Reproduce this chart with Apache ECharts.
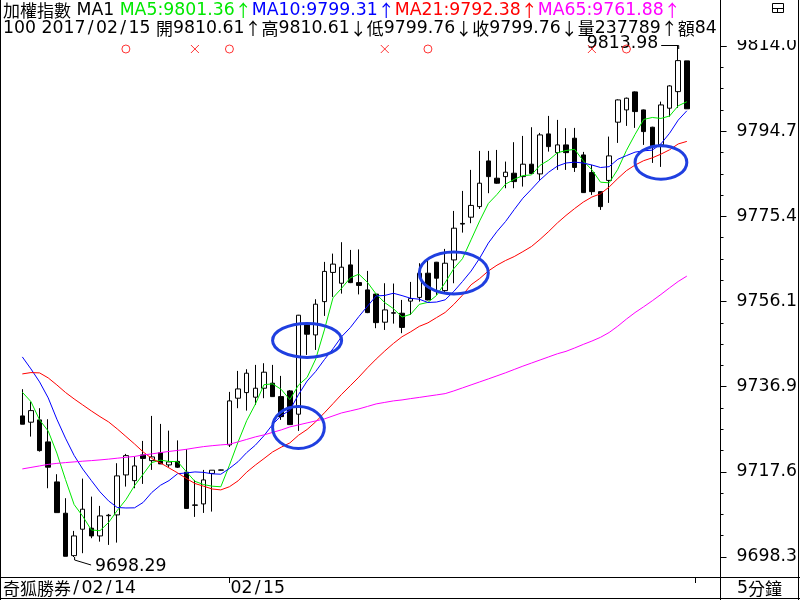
<!DOCTYPE html>
<html>
<head>
<meta charset="utf-8">
<script src="https://cdn.jsdelivr.net/npm/echarts@6.0.0/dist/echarts.min.js"></script>
<style>
html,body{margin:0;padding:0;background:#fff;}
#chart{width:800px;height:600px;}
</style>
</head>
<body>
<div id="chart"></div>
<script>
// ---------------- data ----------------
const day1Times = ['11:35','11:40','11:45','11:50','11:55','12:00','12:05','12:10','12:15','12:20','12:25','12:30',
  '12:35','12:40','12:45','12:50','12:55','13:00','13:05','13:10','13:15','13:20','13:25','13:30'];
const day2Times = ['09:05','09:10','09:15','09:20','09:25','09:30','09:35','09:40','09:45','09:50','09:55',
  '10:00','10:05','10:10','10:15','10:20','10:25','10:30','10:35','10:40','10:45','10:50','10:55',
  '11:00','11:05','11:10','11:15','11:20','11:25','11:30','11:35','11:40','11:45','11:50','11:55',
  '12:00','12:05','12:10','12:15','12:20','12:25','12:30','12:35','12:40','12:45','12:50','12:55',
  '13:00','13:05','13:10','13:15','13:20','13:25','13:30'];
const categories = day1Times.map(t => '2017/02/14 ' + t).concat(day2Times.map(t => '2017/02/15 ' + t));

const opens = [9730.23,9728.81,9729.33,9724.35,9715.29,9708.20,9698.60,9704.58,9704.81,9703.06,
  9707.64,9707.82,9716.87,9715.58,9721.40,9720.11,9721.92,9719.14,9719.93,9717.49,
  9710.08,9710.31,9717.21,9717.95,9723.67,9734.24,9735.51,9734.47,9736.50,9737.64,
  9734.60,9735.89,9730.62,9750.83,9748.57,9756.11,9762.72,9760.27,9764.42,9760.41,
  9758.76,9757.81,9751.45,9753.48,9753.48,9756.22,9757.06,9762.54,9765.03,9758.60,
  9765.55,9773.81,9775.22,9777.62,9787.96,9784.05,9784.41,9785.18,9784.41,9787.22,
  9785.02,9794.08,9789.84,9791.59,9793.10,9789.32,9785.32,9781.01,9783.55,9796.73,
  9799.51,9803.59,9799.51,9795.59,9791.59,9799.90,9803.65,9810.61];
const closes = [9728.35,9731.43,9722.38,9718.62,9708.34,9698.45,9703.06,9709.11,9703.06,9707.59,
  9707.75,9716.65,9721.24,9718.91,9720.61,9720.95,9719.36,9719.82,9718.62,9709.29,
  9710.00,9715.74,9717.94,9718.00,9733.63,9736.34,9739.90,9736.50,9740.13,9734.60,
  9730.07,9728.26,9753.03,9748.73,9755.52,9762.95,9764.60,9763.90,9760.41,9759.78,
  9753.62,9751.35,9754.23,9753.60,9750.27,9756.79,9762.54,9756.49,9761.41,9764.80,
  9772.73,9773.66,9777.89,9782.92,9784.41,9782.92,9785.41,9783.28,9787.22,9785.13,
  9793.85,9791.20,9791.59,9789.84,9786.49,9780.79,9781.01,9777.62,9789.10,9801.77,
  9802.16,9799.13,9794.60,9791.36,9800.64,9804.94,9810.67,9799.76];
const lows = [9728.35,9725.55,9722.15,9713.86,9708.34,9698.45,9698.29,9699.15,9702.54,9701.77,
  9701.03,9701.55,9714.23,9713.86,9714.84,9718.01,9719.36,9718.68,9718.45,9709.29,
  9707.37,9708.27,9708.57,9717.90,9723.20,9731.98,9731.43,9732.72,9734.24,9734.53,
  9729.33,9728.20,9726.84,9744.04,9745.17,9752.87,9757.17,9757.92,9760.30,9757.74,
  9753.50,9750.09,9749.70,9751.13,9748.96,9753.10,9756.11,9756.40,9757.63,9758.01,
  9760.27,9771.73,9773.86,9777.10,9780.65,9782.80,9781.78,9781.78,9782.15,9785.00,
  9783.66,9790.07,9785.93,9785.93,9785.47,9780.70,9780.27,9776.87,9778.46,9792.04,
  9795.89,9795.44,9791.59,9787.51,9786.61,9797.99,9799.96,9799.76];
const highs = [9736.28,9733.47,9731.98,9729.48,9717.03,9711.60,9704.20,9716.04,9711.96,9709.86,
  9708.04,9719.52,9721.63,9721.02,9724.57,9730.23,9728.42,9726.90,9724.69,9722.69,
  9715.74,9718.01,9717.94,9718.05,9735.67,9740.42,9740.80,9741.78,9742.16,9741.78,
  9739.29,9736.10,9753.10,9751.00,9756.65,9765.10,9766.98,9769.56,9767.81,9767.93,
  9763.06,9757.90,9760.27,9760.20,9756.49,9760.57,9764.80,9765.55,9765.10,9768.04,
  9776.64,9781.17,9785.93,9790.23,9790.23,9790.45,9787.81,9792.20,9793.62,9795.59,
  9794.30,9798.15,9797.25,9795.37,9795.44,9790.00,9787.06,9781.10,9793.47,9801.90,
  9802.30,9803.70,9799.60,9795.70,9801.39,9805.10,9813.98,9810.61];

const ma5 = [9735.60,9733.47,9729.33,9726.80,9721.82,9715.84,9710.17,9707.52,9704.40,9704.25,
  9706.11,9708.83,9711.26,9714.43,9717.03,9719.67,9720.21,9719.93,9719.87,9717.61,
  9715.42,9714.69,9714.32,9714.19,9719.06,9724.33,9729.16,9732.87,9737.30,9737.49,
  9736.24,9733.91,9737.22,9738.94,9743.12,9749.70,9756.97,9759.14,9761.48,9762.33,
  9760.46,9757.81,9755.88,9754.52,9752.61,9753.25,9755.49,9755.94,9757.50,9760.41,
  9763.59,9765.82,9770.10,9774.40,9778.32,9780.36,9782.71,9783.79,9784.65,9784.79,
  9786.98,9788.14,9789.80,9790.32,9790.59,9787.98,9785.94,9783.15,9783.00,9786.06,
  9790.33,9793.96,9797.35,9797.80,9797.58,9798.13,9800.44,9801.36];
const ma10 = [9743.59,9740.87,9737.93,9734.31,9729.50,9725.20,9721.30,9718.20,9715.60,9713.04,
  9710.98,9709.50,9709.39,9709.42,9710.64,9712.89,9714.52,9715.59,9717.15,9717.32,
  9717.55,9717.45,9717.12,9717.03,9718.34,9719.87,9721.93,9723.60,9725.75,9728.28,
  9730.29,9731.54,9735.05,9738.12,9740.31,9742.97,9745.44,9748.18,9750.21,9752.73,
  9755.08,9757.39,9757.51,9758.00,9757.47,9756.86,9756.65,9755.91,9756.01,9756.51,
  9758.42,9760.65,9763.02,9765.95,9769.36,9771.98,9774.26,9776.94,9779.52,9781.56,
  9783.67,9785.42,9786.79,9787.49,9787.69,9787.48,9787.04,9786.47,9786.66,9788.33,
  9789.16,9789.95,9790.25,9790.40,9791.82,9794.23,9797.20,9799.31];
const ma21 = [9739.74,9740.04,9739.97,9738.84,9737.25,9735.55,9734.08,9732.72,9731.36,9730.07,
  9728.87,9727.29,9725.59,9723.89,9722.08,9720.61,9719.59,9718.46,9717.33,9716.08,
  9714.93,9714.33,9713.69,9713.48,9714.20,9715.53,9717.50,9719.10,9720.57,9722.07,
  9723.15,9724.12,9725.85,9727.16,9728.91,9730.92,9733.00,9735.12,9737.06,9739.02,
  9741.13,9743.10,9744.93,9746.63,9748.16,9749.27,9750.51,9751.30,9752.49,9753.66,
  9755.48,9757.56,9759.92,9761.34,9763.04,9764.35,9765.42,9766.31,9767.42,9768.59,
  9770.22,9772.00,9773.92,9775.62,9777.18,9778.64,9779.79,9780.51,9782.06,9783.98,
  9785.76,9787.02,9788.02,9788.66,9789.50,9790.48,9791.80,9792.38];
const ma65 = [9718.23,9718.57,9718.91,9719.25,9719.48,9719.66,9719.82,9719.98,9720.11,9720.27,
  9720.45,9720.66,9720.86,9721.06,9721.40,9721.63,9721.92,9722.19,9722.42,9722.67,
  9722.99,9723.28,9723.49,9723.67,9723.82,9724.35,9724.91,9725.48,9725.93,9726.50,
  9727.06,9727.74,9728.19,9728.65,9729.10,9729.55,9730.23,9730.91,9731.36,9731.82,
  9732.38,9732.95,9733.29,9733.63,9733.85,9734.15,9734.42,9734.71,9734.99,9735.28,
  9735.89,9736.57,9737.25,9737.93,9738.61,9739.30,9740.00,9740.75,9741.50,9742.20,
  9742.90,9743.60,9744.30,9744.85,9745.61,9746.42,9747.18,9748.03,9749.12,9750.55,
  9752.15,9753.63,9754.94,9756.30,9757.73,9759.23,9760.67,9761.88];

const yTickValues = [9698.29, 9717.57, 9736.85, 9756.14, 9775.42, 9794.70, 9813.98];
const yTickLabels = ['9698.3', '9717.6', '9736.9', '9756.1', '9775.4', '9794.7', '9814.0'];

const buySignalIdx = [12, 24, 47, 70];   // red circles
const sellSignalIdx = [20, 42, 66];      // red crosses
const highMarkIdx = 76;
const lowMarkIdx = 6;
// circled zones: [bar index, price, half width in bars, half height in price]
const circledZones = [[31.54, 9727.6, 3.71, 4.75], [33.26, 9747.32, 3.28, 3.85],
                      [50.14, 9762.61, 3.56, 4.75], [74.36, 9787.62, 3.09, 3.80]];
const periodCode = '100';
const volumeText = '237789';
const amountText = '84';

// ---------------- chart ----------------
const LAT = '"DejaVu Sans"';
const CJK = '"Noto Sans CJK TC"';
const FONT = LAT + ', ' + CJK + ', sans-serif';
const NUMF = '17.3px ' + FONT;
const CJKF = '17px ' + CJK;
const BAR = 8.63;
const GL = 18, GT = 46, GH = 511;
const GW = categories.length * BAR;
const AXIS_X = 720.5;

const chart = echarts.init(document.getElementById('chart'), null, {renderer: 'canvas', width: 800, height: 600});

const candleData = opens.map((o, i) => [o, closes[i], lows[i], highs[i]]);
const lineStyle = c => ({color: c, width: 1});

chart.setOption({
  animation: false,
  backgroundColor: '#ffffff',
  grid: [
    {left: GL, top: GT, width: GW, height: GH},
    {left: GL, top: 44, width: GW, height: 10}
  ],
  xAxis: [
    {type: 'category', data: categories, gridIndex: 0, boundaryGap: true, show: false},
    {type: 'category', data: categories, gridIndex: 1, boundaryGap: true, show: false}
  ],
  yAxis: [
    {
      type: 'value', gridIndex: 0, position: 'right', offset: AXIS_X - (GL + GW),
      min: yTickValues[0], max: yTickValues[yTickValues.length - 1],
      interval: (yTickValues[yTickValues.length - 1] - yTickValues[0]) / (yTickValues.length - 1),
      axisLine: {show: false},
      axisTick: {show: true, length: 6, lineStyle: {color: '#000', width: 1}},
      minorTick: {show: true, splitNumber: 4, length: 3, lineStyle: {color: '#000', width: 1}},
      splitLine: {show: false},
      axisLabel: {
        show: true, color: '#000', fontFamily: FONT, fontSize: 17.3, margin: 16,
        formatter: function (v) {
          let best = 0;
          yTickValues.forEach((t, i) => { if (Math.abs(t - v) < Math.abs(yTickValues[best] - v)) best = i; });
          return yTickLabels[best];
        }
      }
    },
    {type: 'value', gridIndex: 1, min: -1, max: 1, show: false}
  ],
  series: [
    {
      type: 'candlestick', name: '加權指數', data: candleData, barWidth: 5, clip: false,
      itemStyle: {color: '#ffffff', color0: '#000000', borderColor: '#000000', borderColor0: '#000000', borderWidth: 1},
      z: 3
    },
    {type: 'line', name: 'MA5', data: ma5, symbol: 'none', lineStyle: lineStyle('#00e800'), z: 4},
    {type: 'line', name: 'MA10', data: ma10, symbol: 'none', lineStyle: lineStyle('#0000ff'), z: 4},
    {type: 'line', name: 'MA21', data: ma21, symbol: 'none', lineStyle: lineStyle('#ff0000'), z: 4},
    {type: 'line', name: 'MA65', data: ma65, symbol: 'none', lineStyle: lineStyle('#ff00ff'), z: 4},
    {
      type: 'scatter', xAxisIndex: 1, yAxisIndex: 1, symbol: 'circle', symbolSize: 8,
      data: buySignalIdx.map(i => [i, 0]),
      itemStyle: {color: 'rgba(0,0,0,0)', borderColor: '#ff0000', borderWidth: 1}, z: 8
    },
    {
      type: 'scatter', xAxisIndex: 1, yAxisIndex: 1, symbol: 'path://M0,0L10,10M10,0L0,10', symbolSize: 8,
      data: sellSignalIdx.map(i => [i, 0]),
      itemStyle: {color: 'rgba(0,0,0,0)', borderColor: '#ff0000', borderWidth: 1}, z: 8
    }
  ]
});

// ---------------- annotations ----------------
const px = (i, v) => chart.convertToPixel({xAxisIndex: 0, yAxisIndex: 0}, [i, v]);
const n = categories.length;
const last = n - 1;
const g = [];

// rich-text styles
function richSet(colorMap) {
  const r = {};
  Object.keys(colorMap).forEach(k => {
    const c = colorMap[k];
    r[k] = {font: NUMF, fill: c, lineHeight: 20};
    r[k + 'c'] = {font: CJKF, fill: c, lineHeight: 20};
    r[k + 'a'] = {font: CJKF, fill: c, width: 17, align: 'center', lineHeight: 20};
    r[k + 's'] = {font: NUMF, fill: c, width: 10.5, align: 'center', lineHeight: 20};
  });
  return r;
}
const RICH = richSet({k: '#000000', g: '#00e800', b: '#0000ff', r: '#ff0000', m: '#ff00ff'});
const slashed = (s, k) => s.split('/').map(p => '{' + k + '|' + p + '}').join('{' + k + 's|/}');

// frame lines
g.push({type: 'line', shape: {x1: AXIS_X, y1: 0, x2: AXIS_X, y2: 600}, style: {stroke: '#000', lineWidth: 1}, z: 20});
g.push({type: 'line', shape: {x1: 0, y1: 577.5, x2: 800, y2: 577.5}, style: {stroke: '#000', lineWidth: 1}, z: 20});
g.push({type: 'line', shape: {x1: 0, y1: 598.5, x2: 800, y2: 598.5}, style: {stroke: '#000', lineWidth: 1}, z: 20});
g.push({type: 'line', shape: {x1: 0.5, y1: 0, x2: 0.5, y2: 600}, style: {stroke: '#000', lineWidth: 1}, z: 20});
g.push({type: 'line', shape: {x1: 798.5, y1: 0, x2: 798.5, y2: 600}, style: {stroke: '#000', lineWidth: 1}, z: 20});

// header line 1
const hdr1 = '{kc|加權指數}{k| MA1 }' +
  '{g|MA5:' + ma5[last].toFixed(2) + '}{ga|↑}' +
  '{b|MA10:' + ma10[last].toFixed(2) + '}{ba|↑}' +
  '{r|MA21:' + ma21[last].toFixed(2) + '}{ra|↑}' +
  '{m|MA65:' + ma65[last].toFixed(2) + '}{ma|↑}';
// header line 2
const hdr2 = '{k|' + periodCode + ' }' + slashed('2017/02/15', 'k') + '{k| }' +
  '{kc|開}{k|' + opens[last].toFixed(2) + '}{ka|↑}' +
  '{kc|高}{k|' + highs[last].toFixed(2) + '}{ka|↓}' +
  '{kc|低}{k|' + lows[last].toFixed(2) + '}{ka|↓}' +
  '{kc|收}{k|' + closes[last].toFixed(2) + '}{ka|↓}' +
  '{kc|量}{k|' + volumeText + '}{ka|↑}' +
  '{kc|額}{k|' + amountText + '}';
g.push({type: 'text', z: 5, style: {x: 3, y: 11, text: hdr1, font: NUMF, rich: RICH,
  verticalAlign: 'middle', textVerticalAlign: 'middle'}});
g.push({type: 'text', z: 5, style: {x: 3, y: 29, text: hdr2, font: NUMF, rich: RICH,
  verticalAlign: 'middle', textVerticalAlign: 'middle'}});
// clip header at axis line
g.push({type: 'rect', z: 6, shape: {x: AXIS_X + 0.5, y: 18, width: 77, height: 22}, style: {fill: '#fff'}});
// small window icon top-right
g.push({type: 'rect', z: 21, shape: {x: 772.5, y: 3.5, width: 11, height: 9}, style: {fill: 'none', stroke: '#000', lineWidth: 1}});
g.push({type: 'line', z: 21, shape: {x1: 772.5, y1: 8.5, x2: 783.5, y2: 8.5}, style: {stroke: '#000', lineWidth: 1}});
g.push({type: 'line', z: 21, shape: {x1: 777.5, y1: 8.5, x2: 777.5, y2: 12.5}, style: {stroke: '#000', lineWidth: 1}});

// high label
const ph = px(highMarkIdx, highs[highMarkIdx]);
g.push({type: 'polyline', z: 6, shape: {points: [[ph[0] - 17, ph[1] - 0.5], [ph[0] + 0.5, ph[1] - 0.5], [ph[0] + 0.5, ph[1] + 3]]},
  style: {stroke: '#000', lineWidth: 1, fill: 'none'}});
g.push({type: 'text', z: 5, style: {x: ph[0] - 20, y: ph[1] - 2.5, text: highs[highMarkIdx].toFixed(2), font: NUMF, fill: '#000',
  align: 'right', textAlign: 'right', verticalAlign: 'middle', textVerticalAlign: 'middle'}});
// low label
const pl = px(lowMarkIdx, lows[lowMarkIdx]);
g.push({type: 'polyline', z: 6, shape: {points: [[pl[0] + 0.5, pl[1]], [pl[0] + 0.5, pl[1] + 3], [pl[0] + 17, pl[1] + 8]]},
  style: {stroke: '#000', lineWidth: 1, fill: 'none'}});
g.push({type: 'text', z: 5, style: {x: pl[0] + 21, y: pl[1] + 10, text: lows[lowMarkIdx].toFixed(2), font: NUMF, fill: '#000',
  verticalAlign: 'middle', textVerticalAlign: 'middle'}});

// bottom labels
const day2Start = day1Times.length;
const p2 = px(day2Start, yTickValues[0]);
const pEnd = px(last, yTickValues[0]);
g.push({type: 'text', z: 5, style: {x: 3, y: 588.5, text: '{kc|奇狐勝券}{ks|/}' + slashed('02/14', 'k'), font: NUMF, rich: RICH,
  verticalAlign: 'middle', textVerticalAlign: 'middle'}});
g.push({type: 'text', z: 5, style: {x: p2[0] + 1, y: 588.5, text: slashed('02/15', 'k'), font: NUMF, rich: RICH,
  verticalAlign: 'middle', textVerticalAlign: 'middle'}});
g.push({type: 'line', z: 5, shape: {x1: Math.round(p2[0]) + 0.5, y1: 578, x2: Math.round(p2[0]) + 0.5, y2: 583}, style: {stroke: '#000', lineWidth: 1}});
g.push({type: 'line', z: 5, shape: {x1: Math.round(pEnd[0] + BAR) + 0.5, y1: 578, x2: Math.round(pEnd[0] + BAR) + 0.5, y2: 583}, style: {stroke: '#000', lineWidth: 1}});
g.push({type: 'text', z: 5, style: {x: 737, y: 588.5, text: '{k|5}{kc|分鐘}', font: NUMF, rich: RICH,
  verticalAlign: 'middle', textVerticalAlign: 'middle'}});

// circled zones
circledZones.forEach(z => {
  const c = px(z[0], z[1]);
  const e = px(z[0] + z[2], z[1] - z[3]);
  g.push({type: 'ellipse', z: 30, shape: {cx: c[0], cy: c[1], rx: e[0] - c[0], ry: e[1] - c[1]},
    style: {fill: 'none', stroke: '#1f3fe0', lineWidth: 3}});
});

chart.setOption({graphic: {elements: g}});
</script>
</body>
</html>
